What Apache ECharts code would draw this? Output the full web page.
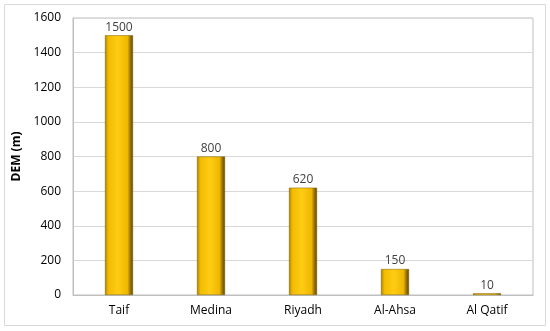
<!DOCTYPE html>
<html><head><meta charset="utf-8">
<script src="https://cdn.jsdelivr.net/npm/echarts@6/dist/echarts.min.js"></script>
<style>html,body{margin:0;padding:0;background:#fff}#c{width:550px;height:331px}</style>
</head><body><div id="c"></div>
<script>
const categories = ["Taif", "Medina", "Riyadh", "Al-Ahsa", "Al Qatif"];
const demValues = [1500, 800, 620, 150, 10];
const yTicks = [0, 200, 400, 600, 800, 1000, 1200, 1400, 1600];

const chart = echarts.init(document.getElementById('c'));
const font = '"Open Sans", "Liberation Sans", sans-serif';
chart.setOption({
  animation: false,
  graphic: [{
    type: 'rect', shape: {x: 4.5, y: 4.5, width: 541, height: 321},
    style: {fill: 'none', stroke: '#d9d9d9', lineWidth: 1}, silent: true
  }],
  grid: {left: 73, right: 17, top: 18, bottom: 36, show: true, borderColor: '#bfbfbf', borderWidth: 1},
  xAxis: {
    type: 'category', data: categories,
    axisLine: {show: true, lineStyle: {color: '#bfbfbf'}},
    axisTick: {show: false},
    axisLabel: {color: '#000', fontSize: 12, fontFamily: font, margin: 10}
  },
  yAxis: {
    type: 'value', min: 0, max: 1600, interval: 200,
    name: 'DEM (m)', nameLocation: 'middle', nameGap: 47,
    nameTextStyle: {color: '#000', fontSize: 12, fontWeight: 'bold', fontFamily: font},
    axisLine: {show: true, lineStyle: {color: '#bfbfbf'}},
    axisTick: {show: false},
    splitLine: {lineStyle: {color: '#d9d9d9'}},
    axisLabel: {color: '#000', fontSize: 12, fontFamily: font, margin: 12,
      formatter: v => yTicks.includes(v) ? String(v) : ''}
  },
  series: [{
    type: 'bar', data: demValues, barWidth: 28,
    itemStyle: {
      color: {type: 'linear', x: 0, y: 0, x2: 1, y2: 0, colorStops: [
        {offset: 0, color: '#a88400'},
        {offset: 0.12, color: '#f2bb00'},
        {offset: 0.45, color: '#ffcc14'},
        {offset: 0.8, color: '#f0b800'},
        {offset: 0.9, color: '#9c7600'},
        {offset: 1, color: '#5e4500'}
      ]},
      borderColor: '#7a5c00', borderWidth: 0.5
    },
    label: {show: true, position: 'top', distance: 2, color: '#404040', fontSize: 12, fontFamily: font}
  }]
});
</script></body></html>
